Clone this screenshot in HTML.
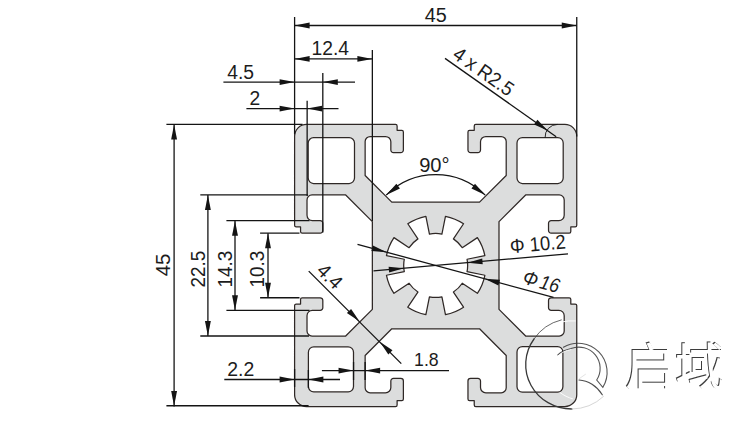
<!DOCTYPE html>
<html lang="zh">
<head>
<meta charset="utf-8">
<title>45x45 profile</title>
<style>
html,body{margin:0;padding:0;background:#fff;}
body{width:751px;height:428px;overflow:hidden;}
svg{display:block;}
text{font-family:"Liberation Sans","Noto Sans CJK SC",sans-serif;}
</style>
</head>
<body>
<svg width="751" height="428" viewBox="0 0 751 428">
<rect width="751" height="428" fill="#ffffff"/>
<path d="M391.79 202.15 L365.14 175.5 L365.14 141.52 A5.02 5.02 0 0 1 370.15 136.5 L385.51 136.5 A5.33 5.33 0 0 1 390.84 141.83 L390.84 149.98 A2.63 2.63 0 0 0 393.48 152.62 L400.75 152.62 A2.63 2.63 0 0 0 403.38 149.98 L403.38 131.92 A1.57 1.57 0 0 0 401.82 130.36 L397.11 130.36 L397.11 125.97 A1.57 1.57 0 0 0 395.55 124.4 L306.51 124.4 A11.91 11.91 0 0 0 294.6 136.31 L294.6 225.35 A1.57 1.57 0 0 0 296.17 226.91 L300.56 226.91 L300.56 231.62 A1.57 1.57 0 0 0 302.12 233.18 L320.18 233.18 A2.63 2.63 0 0 0 322.82 230.55 L322.82 223.28 A2.63 2.63 0 0 0 320.18 220.64 L312.34 220.64 A5.33 5.33 0 0 1 307.01 215.32 L307.01 199.95 A5.02 5.02 0 0 1 312.03 194.94 L345.7 194.94 L372.35 221.59 L372.35 309.37 L345.7 336.01 L312.03 336.01 A5.02 5.02 0 0 1 307.01 331 L307.01 315.63 A5.33 5.33 0 0 1 312.34 310.31 L320.18 310.31 A2.63 2.63 0 0 0 322.82 307.67 L322.82 300.4 A2.63 2.63 0 0 0 320.18 297.77 L302.12 297.77 A1.57 1.57 0 0 0 300.56 299.33 L300.56 304.04 L296.17 304.04 A1.57 1.57 0 0 0 294.6 305.6 L294.6 394.64 A11.91 11.91 0 0 0 306.51 406.55 L395.55 406.55 A1.57 1.57 0 0 0 397.11 404.98 L397.11 400.59 L401.82 400.59 A1.57 1.57 0 0 0 403.38 399.03 L403.38 380.97 A2.63 2.63 0 0 0 400.75 378.34 L393.48 378.34 A2.63 2.63 0 0 0 390.84 380.97 L390.84 387.43 A5.33 5.33 0 0 1 385.51 392.76 L370.15 392.76 A5.02 5.02 0 0 1 365.14 387.74 L365.14 355.45 L391.79 328.8 L479.56 328.8 L506.21 355.45 L506.21 387.74 A5.02 5.02 0 0 1 501.2 392.76 L485.84 392.76 A5.33 5.33 0 0 1 480.51 387.43 L480.51 380.97 A2.63 2.63 0 0 0 477.87 378.34 L470.6 378.34 A2.63 2.63 0 0 0 467.97 380.97 L467.97 399.03 A1.57 1.57 0 0 0 469.53 400.59 L474.24 400.59 L474.24 404.98 A1.57 1.57 0 0 0 475.8 406.55 L564.84 406.55 A11.91 11.91 0 0 0 576.75 394.64 L576.75 305.6 A1.57 1.57 0 0 0 575.18 304.04 L570.79 304.04 L570.79 299.33 A1.57 1.57 0 0 0 569.23 297.77 L551.17 297.77 A2.63 2.63 0 0 0 548.53 300.4 L548.53 307.67 A2.63 2.63 0 0 0 551.17 310.31 L558.88 310.31 A5.33 5.33 0 0 1 564.21 315.63 L564.21 331 A5.02 5.02 0 0 1 559.19 336.01 L525.65 336.01 L499 309.37 L499 221.59 L525.65 194.94 L559.19 194.94 A5.02 5.02 0 0 1 564.21 199.95 L564.21 215.32 A5.33 5.33 0 0 1 558.88 220.64 L551.17 220.64 A2.63 2.63 0 0 0 548.53 223.28 L548.53 230.55 A2.63 2.63 0 0 0 551.17 233.18 L569.23 233.18 A1.57 1.57 0 0 0 570.79 231.62 L570.79 226.91 L575.18 226.91 A1.57 1.57 0 0 0 576.75 225.35 L576.75 136.31 A11.91 11.91 0 0 0 564.84 124.4 L475.8 124.4 A1.57 1.57 0 0 0 474.24 125.97 L474.24 130.36 L469.53 130.36 A1.57 1.57 0 0 0 467.97 131.92 L467.97 149.98 A2.63 2.63 0 0 0 470.6 152.62 L477.87 152.62 A2.63 2.63 0 0 0 480.51 149.98 L480.51 141.83 A5.33 5.33 0 0 1 485.84 136.5 L501.2 136.5 A5.02 5.02 0 0 1 506.21 141.52 L506.21 175.5 L479.56 202.15 L391.79 202.15 Z M313.59 137.7 H349.11 A5.39 5.39 0 0 1 354.5 143.09 V178.11 A5.39 5.39 0 0 1 349.11 183.5 H313.59 A5.39 5.39 0 0 1 308.2 178.11 V143.09 A5.39 5.39 0 0 1 313.59 137.7 Z M522.39 137.6 H557.81 A5.39 5.39 0 0 1 563.2 142.99 V178.11 A5.39 5.39 0 0 1 557.81 183.5 H522.39 A5.39 5.39 0 0 1 517 178.11 V142.99 A5.39 5.39 0 0 1 522.39 137.6 Z M313.79 346.8 H348.11 A5.39 5.39 0 0 1 353.5 352.19 V386.51 A5.39 5.39 0 0 1 348.11 391.9 H313.79 A5.39 5.39 0 0 1 308.4 386.51 V352.19 A5.39 5.39 0 0 1 313.79 346.8 Z M522.39 346.6 H557.51 A5.39 5.39 0 0 1 562.9 351.99 V386.81 A5.39 5.39 0 0 1 557.51 392.2 H522.39 A5.39 5.39 0 0 1 517 386.81 V351.99 A5.39 5.39 0 0 1 522.39 346.6 Z M467.04 259.24 A31.98 31.98 0 0 1 467.04 271.71 L484.87 275.26 A50.16 50.16 0 0 1 477.38 293.34 L462.26 283.24 A31.98 31.98 0 0 1 453.44 292.06 L463.54 307.18 A50.16 50.16 0 0 1 445.46 314.67 L441.91 296.84 A31.98 31.98 0 0 1 429.44 296.84 L425.89 314.67 A50.16 50.16 0 0 1 407.81 307.18 L417.91 292.06 A31.98 31.98 0 0 1 409.09 283.24 L393.97 293.34 A50.16 50.16 0 0 1 386.48 275.26 L404.31 271.71 A31.98 31.98 0 0 1 404.31 259.24 L386.48 255.69 A50.16 50.16 0 0 1 393.97 237.61 L409.09 247.71 A31.98 31.98 0 0 1 417.91 238.89 L407.81 223.77 A50.16 50.16 0 0 1 425.89 216.28 L429.44 234.11 A31.98 31.98 0 0 1 441.91 234.11 L445.46 216.28 A50.16 50.16 0 0 1 463.54 223.77 L453.44 238.89 A31.98 31.98 0 0 1 462.26 247.71 L477.38 237.61 A50.16 50.16 0 0 1 484.87 255.69 Z" fill="#dcdddd" fill-rule="evenodd" stroke="#2f2826" stroke-width="1.25" stroke-linejoin="round"/>

<g fill="none" stroke="#383838" stroke-width="1.1" stroke-linecap="round">
  <path d="M561.3 319.9 A46 44.5 0 0 0 534 339" stroke-width="0.9" opacity="0.85"/>
  <path d="M534 339 A46 44.5 0 0 0 572 409" stroke-width="1.3"/>
  <path d="M572 409 A46 44.5 0 0 0 603.5 396.4" stroke="#d6d6d6" stroke-width="1"/>
  <path d="M563.4 347.2 A29 29 0 0 1 602.8 387.4 L596.7 380 A21.3 21.3 0 0 0 571 348.6 C565 350 561 352 557.8 354.9" opacity="0.85"/>
  <path d="M579 380 C588 380.5 597 386 602.3 394.8" opacity="0.9"/>
</g>
<g fill="none" stroke="#ffffff" stroke-width="1" stroke-linecap="round" opacity="0.9">
  <path d="M549.5 326.6 A46 44.5 0 0 1 575.4 320.9"/>
  <path d="M558 356 C562 352 566 350.5 571 349.6"/>
  <path d="M560 392.6 C564 395.5 568 397.5 572.5 398.8"/>
</g>
<path d="M579.5 378.5 L585.5 374.3" fill="none" stroke="#e4e4e4" stroke-width="1" stroke-linecap="round"/>
<g font-family="'Liberation Sans','Noto Sans CJK SC',sans-serif" font-size="49.5" fill="#ffffff" style="filter:drop-shadow(-1px -0.9px 0 #3c3c3c)">
  <text x="625" y="384.5">启</text>
  <text x="675" y="384.5">域</text>
</g>

<g stroke="#141414" stroke-width="1.3" fill="none" stroke-linecap="butt">
<line x1="294.6" y1="17" x2="294.6" y2="134.4"/>
<line x1="576.75" y1="17" x2="576.75" y2="136.4"/>
<line x1="294.6" y1="25.5" x2="576.75" y2="25.5"/>
<line x1="372.35" y1="50" x2="372.35" y2="221"/>
<line x1="294.6" y1="58.9" x2="372.35" y2="58.9"/>
<line x1="322.81" y1="73" x2="322.81" y2="232.5"/>
<line x1="223.4" y1="82.1" x2="355" y2="82.1"/>
<line x1="307.14" y1="100.7" x2="307.14" y2="196"/>
<line x1="246.4" y1="108.6" x2="338.5" y2="108.6"/>
<line x1="166.4" y1="124.4" x2="302.6" y2="124.4"/>
<line x1="166.4" y1="405.75" x2="308.6" y2="405.75"/>
<line x1="174.1" y1="124.4" x2="174.1" y2="406.55"/>
<line x1="200.3" y1="194.94" x2="307.8" y2="194.94"/>
<line x1="200.3" y1="336.01" x2="309" y2="336.01"/>
<line x1="207.9" y1="194.94" x2="207.9" y2="336.01"/>
<line x1="226.4" y1="220.64" x2="309.5" y2="220.64"/>
<line x1="226.4" y1="310.31" x2="309.5" y2="310.31"/>
<line x1="235" y1="220.64" x2="235" y2="310.31"/>
<line x1="260.1" y1="233.18" x2="299.5" y2="233.18"/>
<line x1="260.1" y1="297.77" x2="299.5" y2="297.77"/>
<line x1="268" y1="233.18" x2="268" y2="297.77"/>
<line x1="224.3" y1="379.5" x2="340" y2="379.5"/>
<line x1="294.6" y1="369" x2="294.6" y2="387"/>
<line x1="308.39" y1="370" x2="308.39" y2="388"/>
<line x1="321.9" y1="370.6" x2="449" y2="370.6"/>
<line x1="353.54" y1="362" x2="353.54" y2="380"/>
<line x1="365.14" y1="362" x2="365.14" y2="380"/>
<line x1="308.7" y1="271.1" x2="401.3" y2="363.6"/>
<line x1="445" y1="58.4" x2="556.2" y2="136.7"/>
<line x1="373.5" y1="270.92" x2="568" y2="253.88"/>
<line x1="357.5" y1="244.29" x2="553.5" y2="297.41"/>
<path d="M386.2 195.1 A70 70 0 0 1 485.2 195.1" fill="none"/>
<path d="M545.1 137.7 A12.5 12.5 0 0 1 557.6 124.4" fill="none" stroke-width="0.9"/>
</g>
<g fill="#141414" stroke="none">
<polygon points="294.6,25.5 309.6,22.55 309.6,28.45"/>
<polygon points="576.75,25.5 561.75,28.45 561.75,22.55"/>
<polygon points="294.6,58.9 309.6,55.95 309.6,61.85"/>
<polygon points="372.35,58.9 357.35,61.85 357.35,55.95"/>
<polygon points="294.6,82.1 279.6,85.05 279.6,79.15"/>
<polygon points="322.81,82.1 337.81,79.15 337.81,85.05"/>
<polygon points="294.6,108.6 279.6,111.55 279.6,105.65"/>
<polygon points="307.14,108.6 322.14,105.65 322.14,111.55"/>
<polygon points="174.1,124.4 177.05,139.4 171.15,139.4"/>
<polygon points="174.1,405.95 171.15,390.95 177.05,390.95"/>
<polygon points="207.9,194.94 210.85,209.94 204.95,209.94"/>
<polygon points="207.9,336.01 204.95,321.01 210.85,321.01"/>
<polygon points="235,220.64 237.95,235.64 232.05,235.64"/>
<polygon points="235,310.31 232.05,295.31 237.95,295.31"/>
<polygon points="268,233.18 270.95,248.18 265.05,248.18"/>
<polygon points="268,297.77 265.05,282.77 270.95,282.77"/>
<polygon points="294.6,379.5 279.6,382.45 279.6,376.55"/>
<polygon points="308.39,379.5 323.39,376.55 323.39,382.45"/>
<polygon points="353.54,370.6 338.54,373.55 338.54,367.65"/>
<polygon points="365.14,370.6 380.14,367.65 380.14,373.55"/>
<polygon points="359.6,321.6 346.91,313.08 351.08,308.91"/>
<polygon points="379.8,341.8 392.49,350.32 388.32,354.49"/>
<polygon points="386.2,195.1 396.41,183.72 399.96,188.43"/>
<polygon points="485.2,195.1 471.44,188.43 474.99,183.72"/>
<polygon points="547.6,130.4 534.05,124.46 537.44,119.64"/>
<polygon points="403.82,268.27 389.13,272.51 388.62,266.64"/>
<polygon points="467.53,262.68 482.22,258.44 482.73,264.31"/>
<polygon points="386.66,252.19 371.41,251.11 372.95,245.42"/>
<polygon points="484.69,278.76 499.94,279.84 498.4,285.53"/>
</g>
<g fill="#1c1c1c">
<text x="435.7" y="21.9" font-size="20" text-anchor="middle" textLength="22" lengthAdjust="spacingAndGlyphs">45</text>
<text x="330.3" y="55.2" font-size="20" text-anchor="middle" textLength="37.5" lengthAdjust="spacingAndGlyphs">12.4</text>
<text x="240.7" y="78.7" font-size="20" text-anchor="middle" textLength="26.8" lengthAdjust="spacingAndGlyphs">4.5</text>
<text x="254.9" y="105.1" font-size="20" text-anchor="middle" textLength="10.7" lengthAdjust="spacingAndGlyphs">2</text>
<text x="170.3" y="264.9" font-size="20" text-anchor="middle" transform="rotate(-90 170.3 264.9)" textLength="22.8" lengthAdjust="spacingAndGlyphs">45</text>
<text x="204.5" y="269" font-size="20" text-anchor="middle" transform="rotate(-90 204.5 269)" textLength="36.8" lengthAdjust="spacingAndGlyphs">22.5</text>
<text x="231.6" y="269.2" font-size="20" text-anchor="middle" transform="rotate(-90 231.6 269.2)" textLength="36.8" lengthAdjust="spacingAndGlyphs">14.3</text>
<text x="264.3" y="269.2" font-size="20" text-anchor="middle" transform="rotate(-90 264.3 269.2)" textLength="36.8" lengthAdjust="spacingAndGlyphs">10.3</text>
<text x="240.7" y="375.8" font-size="20" text-anchor="middle" textLength="27" lengthAdjust="spacingAndGlyphs">2.2</text>
<text x="426.4" y="365.9" font-size="19" text-anchor="middle" textLength="24.6" lengthAdjust="spacingAndGlyphs">1.8</text>
<text x="325" y="281.2" font-size="20" text-anchor="middle" transform="rotate(45 325 281.2)" textLength="26.6" lengthAdjust="spacingAndGlyphs">4.4</text>
<text x="434.4" y="171.6" font-size="20" text-anchor="middle" textLength="30.5" lengthAdjust="spacingAndGlyphs">90°</text>
<text x="479.6" y="77" font-size="20" text-anchor="middle" transform="rotate(35.15 479.6 77)" textLength="69" lengthAdjust="spacingAndGlyphs">4 x R2.5</text>
<text x="538.3" y="250.8" font-size="20" text-anchor="middle" transform="rotate(-5.01 538.3 250.8)" textLength="56" lengthAdjust="spacingAndGlyphs">Φ 10.2</text>
<text x="539.6" y="288.2" font-size="20" text-anchor="middle" transform="rotate(15.16 539.6 288.2)" textLength="37.2" lengthAdjust="spacingAndGlyphs" style="font-style:italic;word-spacing:-2.5px">Φ 16</text>
</g>
</svg>
</body>
</html>
